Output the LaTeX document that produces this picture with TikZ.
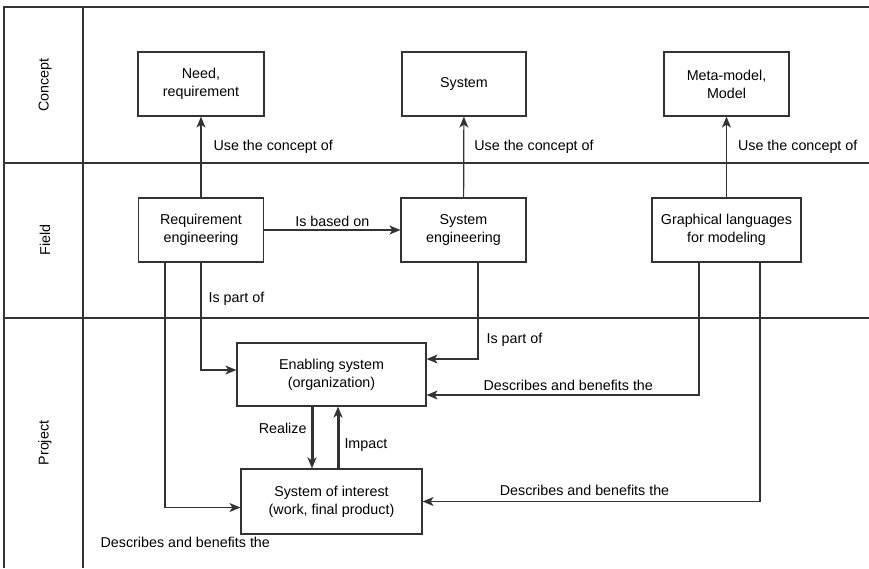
\documentclass[tikz,border=0pt]{standalone}
\usepackage{fontspec}
\setmainfont{Liberation Sans}
\usetikzlibrary{arrows.meta}

\begin{document}
\begin{tikzpicture}[x=1pt, y=-1pt,
    every node/.style={font=\fontsize{14.3}{18}\selectfont},
    box/.style={draw=black!80, line width=1.2pt, align=center, minimum height=64pt, inner sep=2pt},
    lane/.style={draw=black!80, line width=1.2pt},
    lbl/.style={inner sep=1pt},
    heavy/.style={line width=3pt},
    >={Stealth[length=11pt, width=9pt, inset=3pt]}]
    \useasboundingbox (0,0) rectangle (869,568);

    \draw [lane] (869,7) -- (4,7) -- (4,568);
    \draw [lane] (83,7) -- (83,568);
    \draw [lane] (4,163) -- (869,163);
    \draw [lane] (4,318) -- (869,318);

    \node (concept) at (45,85) [rotate=90] {Concept};
    \node (field) at (45,240) [rotate=90] {Field};
    \node (project) at (45,443) [rotate=90] {Project};

    \node (need) at (201,84) [box, minimum width=126pt] {Need,\\requirement};
    \node (sys) at (464,84) [box, minimum width=124pt] {System};
    \node (meta) at (726.5,84) [box, minimum width=125pt] {Meta-model,\\Model};

    \node (reqeng) at (201,230) [box, minimum width=125pt] {Requirement\\engineering};
    \node (syseng) at (463.5,230) [box, minimum width=125pt] {System\\engineering};
    \node (graph) at (726.5,230) [box, minimum width=149pt] {Graphical languages\\for modeling};

    \node (enab) at (331.5,374.5) [box, minimum width=189pt, minimum height=63pt] {Enabling system\\(organization)};
    \node (soi) at (331.5,501.5) [box, minimum width=181pt, minimum height=65pt] {System of interest\\(work, final product)};

    \draw [->, lane] (reqeng) -- (need) node [pos=0.63, right=11pt, lbl] {Use the concept of};
    \draw [->, lane] (syseng) -- (sys) node [pos=0.63, right=9pt, lbl] {Use the concept of};
    \draw [->, lane] (graph) -- (meta) node [pos=0.63, right=10pt, lbl] {Use the concept of};

    \draw [->, lane] (reqeng) -- (syseng) node [midway, above=2pt, lbl] {Is based on};

    \draw [->, lane] (reqeng.south) |- ([yshift=4.5pt]enab.west) node [pos=0.17, right=6pt, lbl] {Is part of};
    \draw [->, lane] ([xshift=-36pt]reqeng.south) |- ([yshift=-6pt]soi.west)
        node [pos=0.5, anchor=north west, xshift=-66pt, yshift=-28pt, lbl] {Describes and benefits the};

    \draw [->, lane] ([xshift=14.5pt]syseng.south) |- ([yshift=15.5pt]enab.east) node [pos=0.4, right=7pt, lbl] {Is part of};
    \draw [->, lane] ([xshift=-27.5pt]graph.south) |- ([yshift=-20.5pt]enab.east) node [pos=0.74, above=3pt, lbl] {Describes and benefits the};
    \draw [->, lane] ([xshift=33.5pt]graph.south) |- (soi.east) node [pos=0.76, above=4pt, lbl] {Describes and benefits the};

    \draw [->, lane, heavy] ([xshift=-19.5pt]enab.south) -- ([xshift=-19.5pt]soi.north) node [pos=0.35, left=3pt, lbl] {Realize};
    \draw [->, lane, heavy] ([xshift=6.5pt]soi.north) -- ([xshift=6.5pt]enab.south) node [pos=0.37, right=4pt, lbl] {Impact};

\end{tikzpicture}
\end{document}
